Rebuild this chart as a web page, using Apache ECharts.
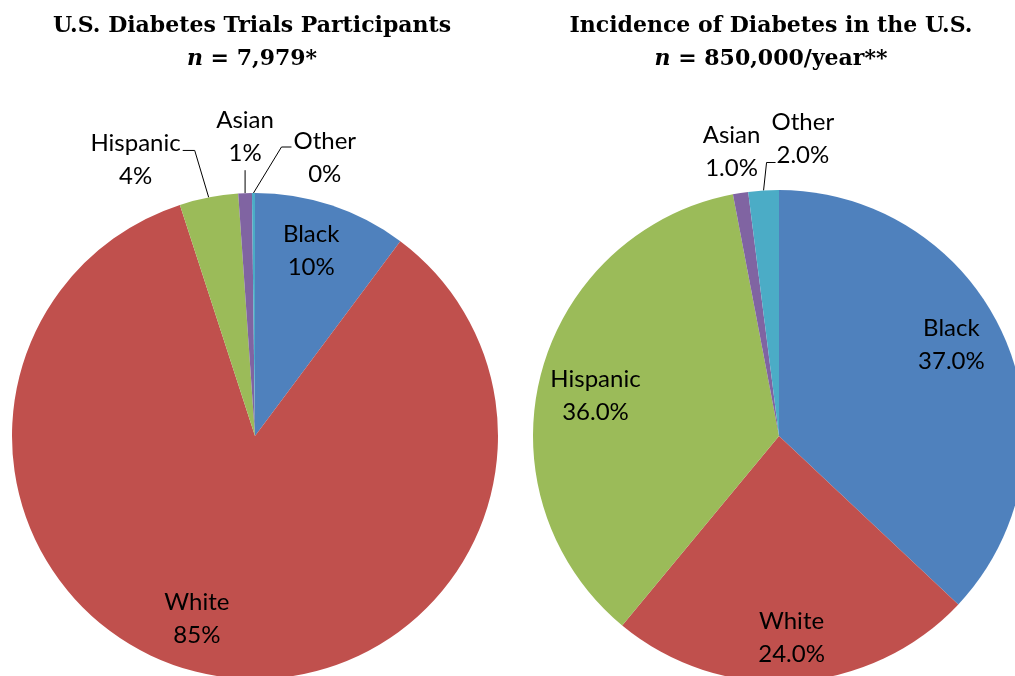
<!DOCTYPE html>
<html><head><meta charset="utf-8">
<script src="https://cdn.jsdelivr.net/npm/echarts@6/dist/echarts.min.js"></script>
<style>html,body{margin:0;padding:0;background:#fff}#c{width:1015px;height:676px}</style>
</head><body><div id="c"></div>
<script>
// ---- data ----
const categories = ['Black', 'White', 'Hispanic', 'Asian', 'Other'];
const trialShares = [10.2, 84.8, 3.9, 0.9, 0.2];        // % of U.S. diabetes trial participants
const incidenceShares = [37.0, 24.0, 36.0, 1.0, 2.0];   // % of U.S. diabetes incidence
const leftTitle = ['U.S. Diabetes Trials Participants', ' = 7,979*'];
const rightTitle = ['Incidence of Diabetes in the U.S.', ' = 850,000/year**'];
const leftInside = ['Black', 'White'];
const rightInside = ['Black', 'White', 'Hispanic'];

// ---- styles ----
const colors = ['#4F81BD', '#C0504D', '#9BBB59', '#8064A2', '#4BACC6'];
const labelFont = { fontFamily: 'Lato', fontSize: 24, lineHeight: 33, color: '#000' };
const leaders = {
  left: {
    Hispanic: { elbow: [-14, -47], end: [-26, -47], side: 'right', dx: 0, dy: 9 },
    Asian:    { elbow: [0, -23],   end: [0, -23],   side: 'top',   dx: 0, dy: 0 },
    Other:    { elbow: [28, -46],  end: [38, -46],  side: 'left',  dx: 0, dy: 11 }
  },
  right: {
    Asian: { elbow: [-9, -8], end: [-9, -8], side: 'top', dx: 0, dy: 0, noLine: true },
    Other: { elbow: [3, -28], end: [12, -28], side: 'left', dx: -6, dy: -24 }
  }
};
// fine placement of the labels drawn inside the slices
const insideNudge = {
  left:  { Black: [-6, 2], White: [-26, -12] },
  right: { Black: [-11, -12], White: [0, 2], Hispanic: [10, 9] }
};
const pies = {
  left:  { center: [255, 436], r: 243 },
  right: { center: [779, 436], r: 246 }
};

function fmtLeft(v) { return Math.round(v) + '%'; }
function fmtRight(v) { return v.toFixed(1) + '%'; }

function makeLayout(key) {
  return function (params) {
    const name = categories[params.dataIndex];
    const cfg = leaders[key][name];
    const pts = params.labelLinePoints;
    if (!cfg || !pts) return {};
    const p0 = pts[0];
    const e1 = [p0[0] + cfg.elbow[0], p0[1] + cfg.elbow[1]];
    const e2 = [p0[0] + cfg.end[0], p0[1] + cfg.end[1]];
    const w = params.labelRect.width, h = params.labelRect.height;
    let x, y;
    if (cfg.side === 'top') { x = e2[0]; y = e2[1] - h / 2; }
    else if (cfg.side === 'right') { x = e2[0] - w / 2 - 2; y = e2[1] + cfg.dy; }
    else { x = e2[0] + w / 2 + 2; y = e2[1] + cfg.dy; }
    x += cfg.dx;
    return { x: x, y: y, align: 'center', verticalAlign: 'middle', labelLinePoints: [p0, e1, e2] };
  };
}

function makeInsideLayout(key) {
  return function (params) {
    const n = insideNudge[key][categories[params.dataIndex]];
    return n ? { dx: n[0], dy: n[1] } : {};
  };
}

function mainSeries(key, values, insideNames, fmt) {
  const p = pies[key];
  return {
    type: 'pie', center: p.center, radius: [0, p.r], startAngle: 90, clockwise: true,
    avoidLabelOverlap: false, silent: true, animation: false,
    label: Object.assign({ position: 'outside', formatter: q => q.name + '\n' + fmt(q.value) }, labelFont),
    labelLine: { lineStyle: { color: '#000', width: 1 }, length: 20, length2: 10 },
    labelLayout: makeLayout(key),
    emphasis: { disabled: true },
    data: categories.map((name, i) => {
      const inside = insideNames.includes(name);
      const cfg = leaders[key][name];
      return {
        name: name, value: values[i],
        itemStyle: { color: colors[i] },
        label: { show: !inside },
        labelLine: { show: !inside, lineStyle: { opacity: cfg && cfg.noLine ? 0 : 1 } }
      };
    })
  };
}

function overlaySeries(key, values, insideNames, fmt) {
  const p = pies[key];
  return {
    type: 'pie', center: p.center, radius: [p.r * 0.6, p.r], startAngle: 90, clockwise: true,
    avoidLabelOverlap: false, silent: true, animation: false, z: 5,
    itemStyle: { color: 'rgba(0,0,0,0)' },
    label: Object.assign({ position: 'inside', formatter: q => q.name + '\n' + fmt(q.value) }, labelFont),
    labelLine: { show: false },
    labelLayout: makeInsideLayout(key),
    emphasis: { disabled: true },
    data: categories.map((name, i) => ({
      name: name, value: values[i], label: { show: insideNames.includes(name) }
    }))
  };
}

function titleOf(lines, cx) {
  const b = { fontFamily: 'DejaVu Serif', fontWeight: 'bold', fontSize: 22, lineHeight: 33, color: '#000' };
  return {
    text: '{b|' + lines[0] + '}\n{i|n}{b|' + lines[1] + '}',
    left: cx, top: 10, textAlign: 'center', padding: 0,
    textStyle: { rich: { b: b, i: Object.assign({}, b, { fontStyle: 'italic' }) } }
  };
}

const chart = echarts.init(document.getElementById('c'), null, { renderer: 'canvas' });
chart.setOption({
  backgroundColor: '#fff',
  animation: false,
  title: [titleOf(leftTitle, 252), titleOf(rightTitle, 771)],
  series: [
    mainSeries('left', trialShares, leftInside, fmtLeft),
    overlaySeries('left', trialShares, leftInside, fmtLeft),
    mainSeries('right', incidenceShares, rightInside, fmtRight),
    overlaySeries('right', incidenceShares, rightInside, fmtRight)
  ]
});
</script>
</body></html>
